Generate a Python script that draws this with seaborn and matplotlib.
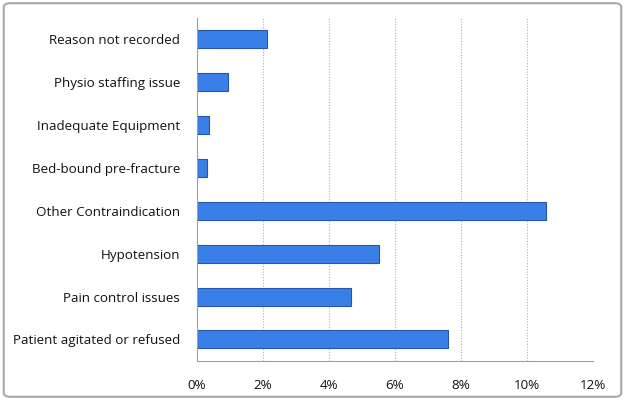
import pandas as pd
import matplotlib.pyplot as plt
import seaborn as sns
from matplotlib.patches import FancyBboxPatch
from matplotlib.ticker import FuncFormatter, MultipleLocator

reasons = ['Reason not recorded', 'Physio staffing issue', 'Inadequate Equipment',
           'Bed-bound pre-fracture', 'Other Contraindication', 'Hypotension',
           'Pain control issues', 'Patient agitated or refused']
percent = [2.12, 0.96, 0.36, 0.30, 10.57, 5.53, 4.68, 7.61]

df = pd.DataFrame({'reason': reasons, 'pct': percent})

sns.set_style('white')
plt.rcParams['font.family'] = ['Open Sans', 'DejaVu Sans']

fig = plt.figure(figsize=(6.25, 4), dpi=100)
ax = fig.add_axes([0.3147, 0.098, 0.6346, 0.857])

sns.barplot(data=df, x='pct', y='reason', orient='h', order=reasons,
            color='#3a7fe8', saturation=1, width=0.42,
            edgecolor='#2457a8', linewidth=0.8, ax=ax)

ax.set_xlim(0, 12)
ax.set_ylim(len(reasons) - 0.5, -0.5)
ax.xaxis.set_major_locator(MultipleLocator(2))
ax.xaxis.set_major_formatter(FuncFormatter(lambda v, _: f'{v:.0f}%'))
ax.grid(axis='x', color='#b0b0b0', linestyle=(0, (1, 1.5)), linewidth=0.8)
ax.set_axisbelow(True)

ax.set_yticks([i + 0.5 for i in range(-1, len(reasons))], minor=True)
ax.tick_params(axis='y', which='minor', length=4, color='#a0a0a0', width=0.8)
ax.tick_params(axis='y', which='major', length=0, labelsize=9.6, pad=12, labelcolor='#111111')
ax.tick_params(axis='x', length=4, color='#a0a0a0', width=0.8, labelsize=9.6,
               pad=9, labelcolor='#111111')

for side in ['top', 'right']:
    ax.spines[side].set_visible(False)
for side in ['left', 'bottom']:
    ax.spines[side].set_color('#a0a0a0')
    ax.spines[side].set_linewidth(0.8)

ax.set_xlabel('')
ax.set_ylabel('')

frame = FancyBboxPatch((0.006, 0.008), 0.988, 0.984, boxstyle='round,pad=0,rounding_size=0.01',
                       transform=fig.transFigure, fill=False, edgecolor='#a8a8a8',
                       linewidth=1.5)
fig.patches.append(frame)

plt.savefig('out.png', dpi=100)
plt.close()
